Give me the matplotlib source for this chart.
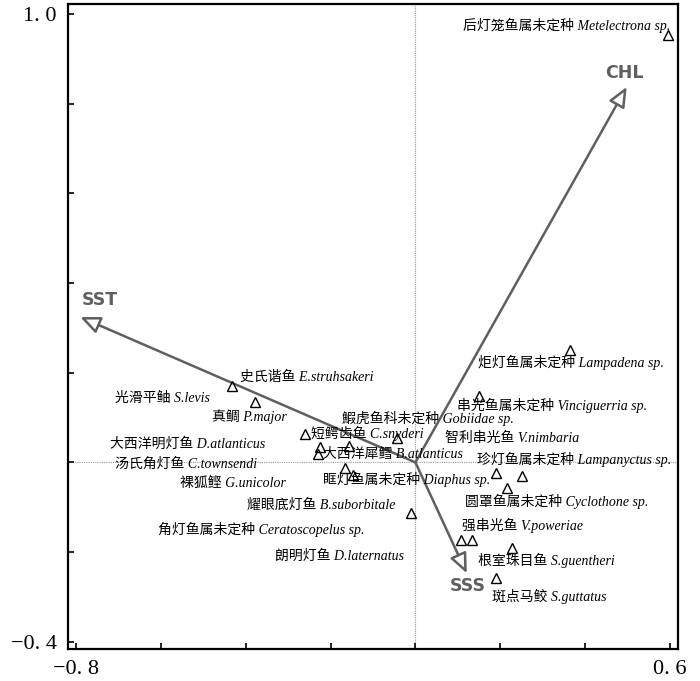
import matplotlib
matplotlib.use("Agg")
import matplotlib.pyplot as plt
import numpy as np

# ---- data ----
# species scores (triangles)
sp_x = [0.596, 0.364, 0.150, 0.189, 0.252, 0.215, -0.010, 0.107, 0.133, 0.228,
        0.189, -0.432, -0.378, -0.260, -0.225, -0.157, -0.229, -0.166, -0.148, -0.043]
sp_y = [0.953, 0.251, 0.148, -0.023, -0.031, -0.056, -0.112, -0.174, -0.174, -0.191,
        -0.258, 0.171, 0.134, 0.063, 0.035, 0.037, 0.019, -0.012, -0.029, 0.055]

# species labels
label_text = [
    "后灯笼鱼属未定种 Metelectrona sp.",
    "炬灯鱼属未定种 Lampadena sp.",
    "串光鱼属未定种 Vinciguerria sp.",
    "鰕虎鱼科未定种 Gobiidae sp.",
    "智利串光鱼 V.nimbaria",
    "珍灯鱼属未定种 Lampanyctus sp.",
    "圆罩鱼属未定种 Cyclothone sp.",
    "强串光鱼 V.poweriae",
    "根室珠目鱼 S.guentheri",
    "斑点马鲛 S.guttatus",
    "史氏谐鱼 E.struhsakeri",
    "光滑平鲉 S.levis",
    "真鲷 P.major",
    "大西洋明灯鱼 D.atlanticus",
    "汤氏角灯鱼 C.townsendi",
    "短鳄齿鱼 C.snyderi",
    "大西洋犀鳕 B.atlanticus",
    "眶灯鱼属未定种 Diaphus sp.",
    "裸狐鲣 G.unicolor",
    "耀眼底灯鱼 B.suborbitale",
    "角灯鱼属未定种 Ceratoscopelus sp.",
    "朗明灯鱼 D.laternatus",
]
# label anchor (left, centre) positions in data units
label_x = [0.112, 0.148, 0.098, -0.173, 0.070, 0.145, 0.117, 0.110, 0.148, 0.181,
           -0.413, -0.708, -0.479, -0.720, -0.708, -0.246, -0.218, -0.218, -0.555,
           -0.397, -0.607, -0.331]
label_y = [0.975, 0.223, 0.128, 0.097, 0.054, 0.006, -0.087, -0.141, -0.219, -0.299,
           0.189, 0.142, 0.102, 0.041, -0.004, 0.064, 0.017, -0.039, -0.046,
           -0.095, -0.149, -0.210]

# environmental vectors
env_names = ["SST", "CHL", "SSS"]
env_x = [-0.790, 0.498, 0.121]
env_y = [0.324, 0.837, -0.247]
env_label_x = [-0.743, 0.493, 0.123]
env_label_y = [0.361, 0.869, -0.275]

xticks = [-0.8, -0.6, -0.4, -0.2, 0.0, 0.2, 0.4, 0.6]
xticklabels = ["−0. 8", "", "", "", "", "", "", "0. 6"]
yticks = [-0.4, -0.2, 0.0, 0.2, 0.4, 0.6, 0.8, 1.0]
yticklabels = ["−0. 4", "", "", "", "", "", "", "1. 0"]

# ---- figure ----
fig = plt.figure(figsize=(7.0, 6.81), dpi=100)
ax = fig.add_axes([68 / 700, 32 / 681, 610 / 700, 645 / 681])
ax.set_xlim(-0.819, 0.619)
ax.set_ylim(-0.416, 1.022)

ax.axvline(0, color="#999999", lw=0.8, ls=(0, (1, 1)), zorder=1)
ax.axhline(0, color="#999999", lw=0.8, ls=(0, (1, 1)), zorder=1)

gray = "#5f5f5f"
for name, ex, ey, lx, ly in zip(env_names, env_x, env_y, env_label_x, env_label_y):
    ax.annotate("", xy=(ex, ey), xytext=(0, 0),
                arrowprops=dict(arrowstyle="-|>,head_length=0.8,head_width=0.35",
                                mutation_scale=15, lw=1.8, ec=gray, fc="white",
                                shrinkA=0, shrinkB=0), zorder=3)
    ax.text(lx, ly, name, color=gray, fontsize=12.5, fontweight="bold",
            family="DejaVu Sans", ha="center", va="center", zorder=4)

ax.plot(sp_x, sp_y, ls="none", marker="^", ms=7.5, mfc="none", mec="black",
        mew=1.0, zorder=5)

for t, lx, ly in zip(label_text, label_x, label_y):
    ax.text(lx, ly, t, fontsize=10, family=["Liberation Serif", "Noto Sans CJK SC"],
            style="italic", fontweight=500, ha="left", va="center", color="black",
            zorder=6)

ax.set_xticks(xticks)
ax.set_xticklabels(xticklabels)
ax.set_yticks(yticks)
ax.set_yticklabels(yticklabels)
ax.tick_params(direction="in", length=4, width=1.2, labelsize=16, pad=8)
for lab in ax.get_xticklabels() + ax.get_yticklabels():
    lab.set_family("Liberation Serif")
for s in ax.spines.values():
    s.set_linewidth(1.6)

fig.savefig("out.png", dpi=100)
